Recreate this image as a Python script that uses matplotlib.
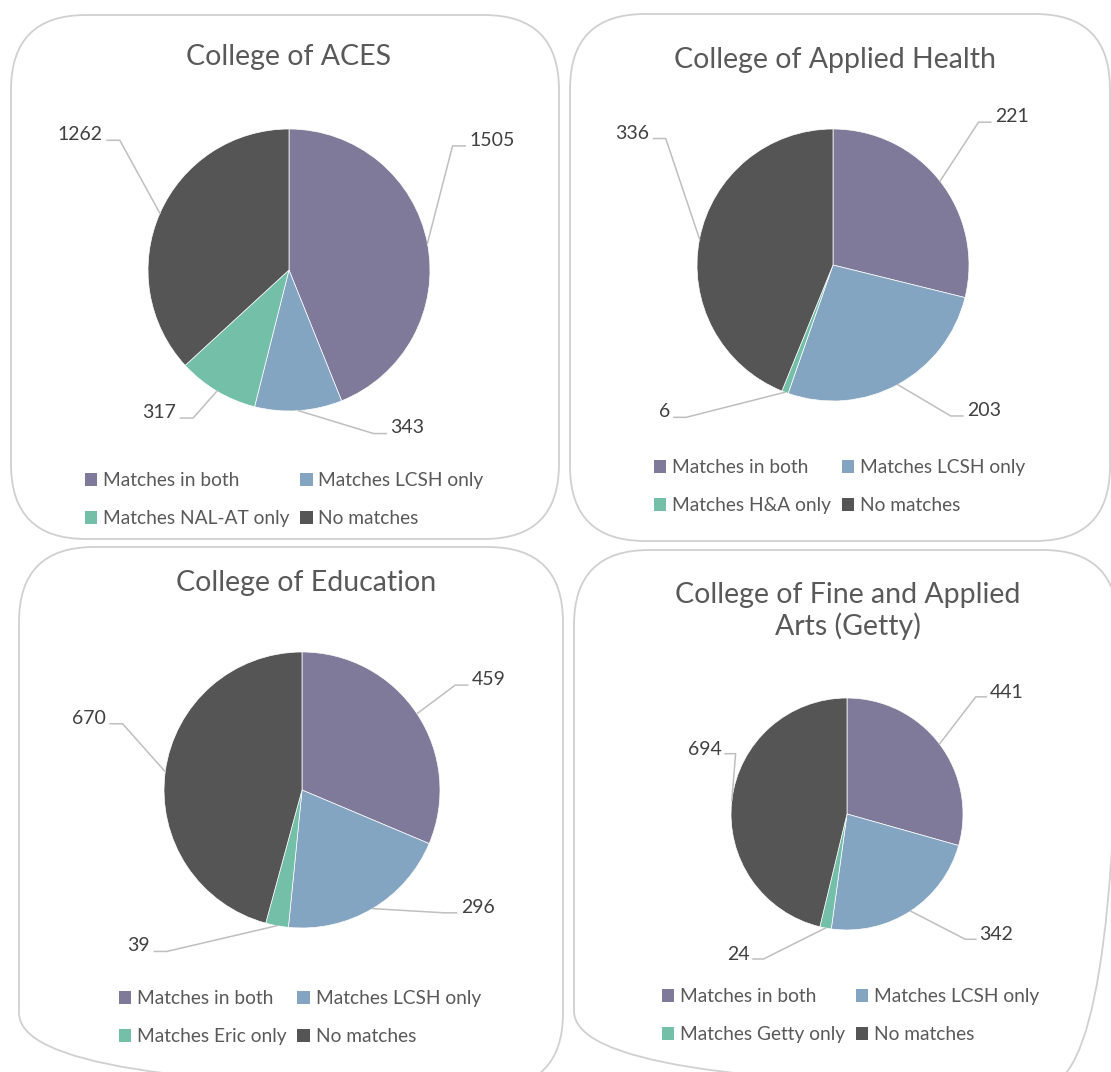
import matplotlib
matplotlib.use("Agg")
import numpy as np
import matplotlib.pyplot as plt
from matplotlib.patches import FancyBboxPatch, Patch

plt.rcParams['font.family'] = ['Lato', 'DejaVu Sans']

# data
titles = ["College of ACES", "College of Applied Health",
          "College of Education", "College of Fine and Applied\nArts (Getty)"]
labels_aces = ["Matches in both", "Matches LCSH only", "Matches NAL-AT only", "No matches"]
labels_health = ["Matches in both", "Matches LCSH only", "Matches H&A only", "No matches"]
labels_edu = ["Matches in both", "Matches LCSH only", "Matches Eric only", "No matches"]
labels_arts = ["Matches in both", "Matches LCSH only", "Matches Getty only", "No matches"]
values_aces = [1505, 343, 317, 1262]
values_health = [221, 203, 6, 336]
values_edu = [459, 296, 39, 670]
values_arts = [441, 342, 24, 694]

colors = ["#7f7a99", "#84a5c2", "#74bfa8", "#555555"]

W, H = 1111, 1072
fig = plt.figure(figsize=(W / 100, H / 100), dpi=100)


def fig_rect(x0, y0, x1, y1):
    return [x0 / W, 1 - y1 / H, (x1 - x0) / W, (y1 - y0) / H]


# background axes in pixel units for the rounded panel frames and titles
bg = fig.add_axes([0, 0, 1, 1])
bg.set_xlim(0, W)
bg.set_ylim(H, 0)
bg.axis('off')

rad = 75
boxes = [(11, 15, 559, 539), (570, 14, 1110, 541), (19, 547, 563, 1088), (574, 550, 1118, 1086)]
for x0, y0, x1, y1 in boxes:
    bg.add_patch(FancyBboxPatch((x0 + rad, y0 + rad), x1 - x0 - 2 * rad, y1 - y0 - 2 * rad,
                                boxstyle=f"round,pad={rad}", fc='none', ec='#d0d0d0', lw=1.3))

# layout per panel: pie centre/radius (px), title pos, legend anchor, label offsets (radius units)
panels = [
    dict(title=titles[0], labels=labels_aces, values=values_aces, c=(289, 270), r=141,
         tpos=(289, 57), leg=(85, 472),
         lab=[(1.28, 0.92), (0.72, -1.12), (-0.80, -1.01), (-1.32, 0.96)]),
    dict(title=titles[1], labels=labels_health, values=values_health, c=(833, 265), r=136,
         tpos=(835, 60), leg=(654, 459),
         lab=[(1.19, 1.09), (0.985, -1.07), (-1.20, -1.08), (-1.35, 0.97)]),
    dict(title=titles[2], labels=labels_edu, values=values_edu, c=(302, 790), r=138,
         tpos=(306, 583), leg=(119, 990),
         lab=[(1.23, 0.80), (1.15, -0.85), (-1.10, -1.13), (-1.42, 0.52)]),
    dict(title=titles[3], labels=labels_arts, values=values_arts, c=(847, 814), r=116,
         tpos=(848, 611), leg=(662, 988),
         lab=[(1.23, 1.05), (1.14, -1.04), (-0.84, -1.21), (-1.08, 0.56)]),
]

for p in panels:
    cx, cy = p['c']
    r = p['r']
    ax = fig.add_axes(fig_rect(cx - r, cy - r, cx + r, cy + r))
    wedges, _ = ax.pie(p['values'], colors=colors, startangle=90, counterclock=False,
                       radius=1, wedgeprops=dict(edgecolor='white', linewidth=0.5))
    ax.set_xlim(-1, 1)
    ax.set_ylim(-1, 1)
    ax.axis('off')

    # data labels with Excel-style leader lines
    for w, v, (lx, ly) in zip(wedges, p['values'], p['lab']):
        mid = np.deg2rad((w.theta1 + w.theta2) / 2)
        ex, ey = np.cos(mid), np.sin(mid)
        side = 1 if lx > 0 else -1
        sy = ly - 0.04
        s0 = lx - side * 0.03
        s1 = lx - side * 0.12
        ax.plot([ex, s1, s0], [ey, sy, sy], color='#bfbfbf', lw=1.1, clip_on=False)
        ax.text(lx, ly, str(v), ha='left' if side > 0 else 'right', va='center',
                fontsize=14, color='#404040', clip_on=False)

    bg.text(p['tpos'][0], p['tpos'][1], p['title'], ha='center', va='center',
            fontsize=20.5, color='#595959', linespacing=1.2)

    handles = [Patch(facecolor=col, edgecolor='none') for col in colors]
    order = [0, 2, 1, 3]
    ax.legend([handles[i] for i in order], [p['labels'][i] for i in order], ncol=2,
              loc='upper left', bbox_to_anchor=(p['leg'][0] / W, 1 - p['leg'][1] / H),
              bbox_transform=fig.transFigure, frameon=False, fontsize=13.8,
              handlelength=0.65, handleheight=0.65, handletextpad=0.3,
              columnspacing=0.55, labelspacing=1.1, borderpad=0, borderaxespad=0,
              labelcolor='#595959')

fig.savefig("out.png", dpi=100, facecolor='white')
